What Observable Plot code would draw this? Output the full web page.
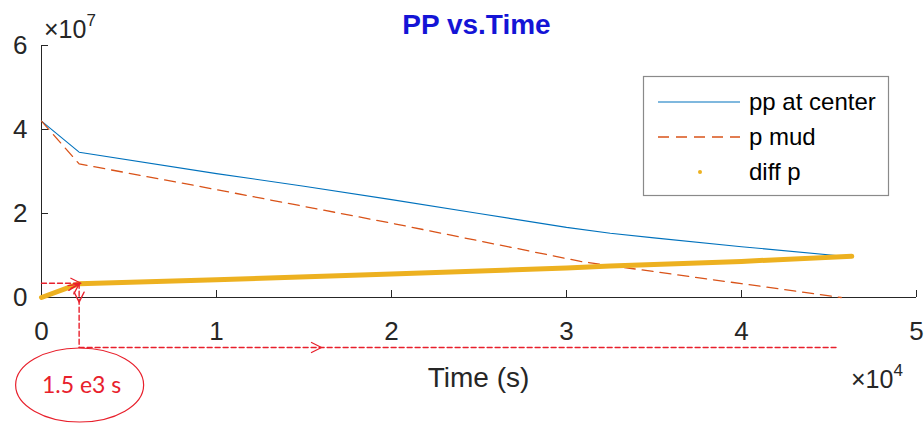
<!DOCTYPE html>
<html><head><meta charset="utf-8">
<script src="https://cdn.jsdelivr.net/npm/d3@7"></script>
<script src="https://cdn.jsdelivr.net/npm/@observablehq/plot@0.6"></script>
<style>body{margin:0;background:#fff}#chart{width:924px;height:423px;position:relative}</style>
</head><body><div id="chart"></div>
<script>
// ---- data ----
const title = "PP vs.Time";
const xLabel = "Time (s)";
const xTicks = [0, 1e4, 2e4, 3e4, 4e4, 5e4];
const yTicks = [0, 2e7, 4e7, 6e7];
const seriesNames = ["pp at center", "p mud", "diff p"];
const seriesColors = ["#0072BD", "#D95319", "#EDB120"];
const ppTime  = [0, 2150, 10000, 15000, 20000, 25000, 30000, 32500, 35000, 40000, 45400];
const ppValue = [4.2e7, 3.46e7, 2.95e7, 2.65e7, 2.33e7, 2.0e7, 1.67e7, 1.53e7, 1.42e7, 1.21e7, 1.0e7];
const mudTime  = [0, 2150, 9100, 20000, 30800, 32500, 40000, 45700];
const mudValue = [4.2e7, 3.18e7, 2.64e7, 1.77e7, 0.86e7, 0.76e7, 0.33e7, 0];
const diffTime  = [0, 2150, 10000, 20000, 30000, 32500, 40000, 46300];
const diffValue = [0, 0.33e7, 0.42e7, 0.56e7, 0.70e7, 0.75e7, 0.86e7, 0.98e7];
const noteText = "1.5 e3 s";
const noteTime = 2150;      // vertical marker
const noteLevel = 0.34e7;   // horizontal marker level
const noteFloor = -1.19e7;  // level of the lower dashed arrow (below axis)
const noteEnd = 45400;      // end of lower dashed arrow
const noteColor = "#E8202C";

const pp = ppTime.map((t, i) => ({t, v: ppValue[i]}));
const mud = mudTime.map((t, i) => ({t, v: mudValue[i]}));
const diff = diffTime.map((t, i) => ({t, v: diffValue[i]}));

const vHead = {draw(ctx) { ctx.moveTo(-5, 10); ctx.lineTo(0, 0); ctx.lineTo(5, 10); }};
const heads = [
  {t: noteTime + 100, v: noteLevel, r: 90},
  {t: noteTime, v: -0.11e7, r: 180},
  {t: 16000, v: noteFloor, r: 90},
  {t: noteTime, v: noteLevel - 0.02e7, r: 55}
];
const ink = "#262626";
const noteStyle = {x: "t", y: "v", stroke: noteColor, strokeWidth: 1.4, strokeDasharray: "5,3"};

const plot = Plot.plot({
  width: 924, height: 423,
  marginLeft: 41, marginRight: 8, marginTop: 45, marginBottom: 126,
  style: {fontFamily: "'Liberation Sans', Arial, sans-serif", fontSize: "26px", background: "#fff", color: ink},
  x: {domain: [0, 5e4]},
  y: {domain: [0, 6e7]},
  marks: [
    Plot.ruleY([0], {stroke: ink}),
    Plot.ruleX([0], {stroke: ink}),
    Plot.axisX({ticks: xTicks, tickSize: 7, dy: -7, tickFormat: () => "", stroke: ink, label: null}),
    Plot.axisY({ticks: yTicks, tickSize: 7, dx: 7, tickFormat: () => "", stroke: ink, label: null}),
    Plot.axisX({ticks: xTicks, tickSize: 0, tickPadding: 24, tickFormat: d => d / 1e4, fontSize: 26, fill: ink, label: null}),
    Plot.axisY({ticks: yTicks, tickSize: 0, tickPadding: 14, tickFormat: d => d / 1e7, fontSize: 26, fill: ink, label: null}),
    Plot.line(pp, {x: "t", y: "v", stroke: seriesColors[0], strokeWidth: 1.1}),
    Plot.line(mud, {x: "t", y: "v", stroke: seriesColors[1], strokeWidth: 1.3, strokeDasharray: "11,7"}),
    Plot.line(diff, {x: "t", y: "v", stroke: seriesColors[2], strokeWidth: 5, strokeLinecap: "round"}),
    // annotation
    Plot.line([{t: 0, v: noteLevel}, {t: noteTime + 100, v: noteLevel}], noteStyle),
    Plot.line([{t: noteTime, v: noteLevel}, {t: noteTime, v: noteFloor}], noteStyle),
    Plot.line([{t: noteTime, v: noteFloor}, {t: noteEnd, v: noteFloor}], noteStyle),
    Plot.line([{t: 1560, v: 0.17e7}, {t: noteTime, v: noteLevel - 0.02e7}], {x: "t", y: "v", stroke: noteColor, strokeWidth: 1.3}),
    Plot.vector(heads, {x: "t", y: "v", rotate: "r", anchor: "start", shape: vHead, stroke: noteColor, strokeWidth: 1.3})
  ]
});
document.getElementById("chart").append(plot);

const svg = d3.select(plot);
const sx = plot.scale("x"), sy = plot.scale("y");
const cx = (sx.apply(0) + sx.apply(5e4)) / 2;

svg.append("text").attr("x", cx - 2).attr("y", 34).attr("text-anchor", "middle")
  .attr("font-weight", "bold").attr("font-size", 28).attr("fill", "#1414D6").text(title);
svg.append("text").attr("x", cx).attr("y", 387).attr("text-anchor", "middle")
  .attr("font-size", 28).attr("fill", ink).text(xLabel);

// exponent labels
const e7 = svg.append("text").attr("x", 44).attr("y", 38).attr("text-anchor", "start").attr("fill", ink).attr("font-size", 25);
e7.append("tspan").text("×10");
e7.append("tspan").attr("font-size", 17).attr("dy", -12).text("7");
const e4 = svg.append("text").attr("x", 851).attr("y", 388).attr("text-anchor", "start").attr("fill", ink).attr("font-size", 25);
e4.append("tspan").text("×10");
e4.append("tspan").attr("font-size", 17).attr("dy", -12).text("4");

// callout ellipse
svg.append("ellipse").attr("cx", sx.apply(noteTime) + 1).attr("cy", 385).attr("rx", 64).attr("ry", 37)
  .attr("fill", "none").attr("stroke", noteColor).attr("stroke-width", 1.2);
svg.append("text").attr("x", sx.apply(noteTime) + 3).attr("y", 393).attr("text-anchor", "middle")
  .attr("font-family", "Lato, 'Open Sans', sans-serif").attr("font-size", 23).attr("fill", noteColor).text(noteText);

// legend
const lg = svg.append("g");
lg.append("rect").attr("x", 643.5).attr("y", 76.5).attr("width", 245).attr("height", 119)
  .attr("fill", "#fff").attr("stroke", "#8a8a8a").attr("stroke-width", 1.2);
const rowsY = [102, 137, 172];
seriesNames.forEach((name, i) => {
  const yy = rowsY[i];
  if (i === 0) lg.append("line").attr("x1", 658).attr("x2", 740).attr("y1", yy).attr("y2", yy).attr("stroke", seriesColors[0]).attr("stroke-width", 1.1);
  if (i === 1) lg.append("line").attr("x1", 658).attr("x2", 740).attr("y1", yy).attr("y2", yy).attr("stroke", seriesColors[1]).attr("stroke-width", 1.3).attr("stroke-dasharray", "11,7");
  if (i === 2) lg.append("circle").attr("cx", 700).attr("cy", yy).attr("r", 2).attr("fill", seriesColors[2]);
  lg.append("text").attr("x", 749).attr("y", yy + 8).attr("text-anchor", "start").attr("font-size", 24).attr("fill", "#000").text(name);
});
</script>
</body></html>
